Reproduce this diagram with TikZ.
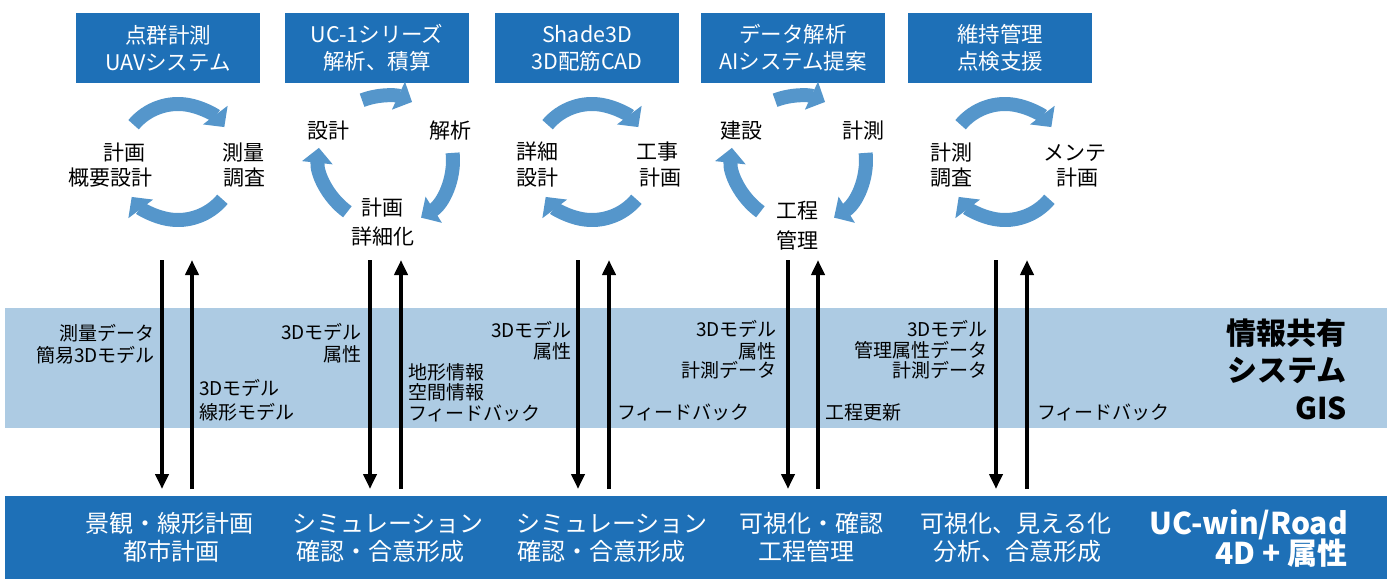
\documentclass[tikz,border=0pt]{standalone}
\usepackage{fontspec}
\setmainfont{Noto Sans CJK JP}
\usetikzlibrary{arrows.meta}
\definecolor{boxblue}{RGB}{30,112,183}
\definecolor{cycblue}{RGB}{85,150,203}
\definecolor{bandblue}{RGB}{173,203,227}
\begin{document}
\begin{tikzpicture}[x=1pt,y=-1pt,
  topbox/.style={fill=boxblue,text=white,minimum width=184pt,minimum height=70pt,inner sep=0pt,align=center,font=\fontsize{21.5}{27}\selectfont},
  cyc/.style={cycblue,line width=14pt,-{Triangle[width=30pt,length=15pt]}},
  lbl/.style={anchor=base,inner sep=0pt,font=\fontsize{21}{25}\selectfont},
  mid/.style={inner sep=0pt,font=\fontsize{19}{21}\selectfont},
  midr/.style={mid,anchor=base east},
  midl/.style={mid,anchor=base west},
  bot/.style={anchor=base,inner sep=0pt,text=white,font=\fontsize{24}{28}\selectfont},
  big/.style={anchor=base east,inner sep=0pt,font=\bfseries\fontsize{30}{34}\selectfont},
  bigw/.style={big,text=white},
  vline/.style={line width=4pt,-{Triangle[width=13pt,length=15pt]}},
]
\useasboundingbox (0,0) rectangle (1392,579);

% bands
\node[fill=bandblue,minimum width=1382pt,minimum height=120pt,inner sep=0pt] (band) at (696,368) {};
\node[fill=boxblue,minimum width=1382pt,minimum height=83pt,inner sep=0pt] (road) at (696,537.5) {};

% top boxes
\node[topbox] (b1) at (168,48) {点群計測\\UAVシステム};
\node[topbox] (b2) at (377,48) {UC-1シリーズ\\解析、積算};
\node[topbox] (b3) at (587,48) {Shade3D\\3D配筋CAD};
\node[topbox] (b4) at (793,48) {データ解析\\AIシステム提案};
\node[topbox] (b5) at (1000,48) {維持管理\\点検支援};

% cycle 1
\draw[cyc] (178,162) ++(-140:58) arc[start angle=-140,end angle=-37,radius=58];
\draw[cyc] (178,162) ++(40:58) arc[start angle=40,end angle=143,radius=58];
\node[lbl] (c1a) at (124,160) {計画};
\node[lbl] (c1b) at (110,185) {概要設計};
\node[lbl] (c1c) at (243,160) {測量};
\node[lbl] (c1d) at (244,185) {調査};

% cycle 2
\draw[cyc] (385,160) ++(-111:64) arc[start angle=-111,end angle=-65,radius=64];
\draw[cyc] (385,160) ++(-6:68) arc[start angle=-6,end angle=58,radius=68];
\draw[cyc] (385,160) ++(126:64) arc[start angle=126,end angle=186,radius=70];
\node[lbl] (c2a) at (328,138) {設計};
\node[lbl] (c2b) at (450,138) {解析};
\node[lbl] (c2c) at (382,215) {計画};
\node[lbl] (c2d) at (383,244) {詳細化};

% cycle 3
\draw[cyc] (592,162) ++(-140:58) arc[start angle=-140,end angle=-37,radius=58];
\draw[cyc] (592,162) ++(40:58) arc[start angle=40,end angle=143,radius=58];
\node[lbl] (c3a) at (537,159) {詳細};
\node[lbl] (c3b) at (537,185) {設計};
\node[lbl] (c3c) at (657,159) {工事};
\node[lbl] (c3d) at (660,185) {計画};

% cycle 4
\draw[cyc] (798,160) ++(-111:64) arc[start angle=-111,end angle=-65,radius=64];
\draw[cyc] (798,160) ++(-6:68) arc[start angle=-6,end angle=58,radius=68];
\draw[cyc] (798,160) ++(126:64) arc[start angle=126,end angle=186,radius=70];
\node[lbl] (c4a) at (741,138) {建設};
\node[lbl] (c4b) at (863,138) {計測};
\node[lbl] (c4c) at (797,218) {工程};
\node[lbl] (c4d) at (797,248) {管理};

% cycle 5
\draw[cyc] (1005,162) ++(-140:58) arc[start angle=-140,end angle=-37,radius=58];
\draw[cyc] (1005,162) ++(40:58) arc[start angle=40,end angle=143,radius=58];
\node[lbl] (c5a) at (951,160) {計測};
\node[lbl] (c5b) at (951,185) {調査};
\node[lbl] (c5c) at (1075,160) {メンテ};
\node[lbl] (c5d) at (1077,185) {計画};

% vertical arrows
\foreach \i/\xd/\xu in {1/162/192,2/370/401,3/578/609,4/788/818,5/996/1027}{
  \coordinate (d\i t) at (\xd,260);
  \coordinate (d\i b) at (\xd,489);
  \coordinate (u\i t) at (\xu,260);
  \coordinate (u\i b) at (\xu,489);
  \draw[vline] (d\i t) -- (d\i b);
  \draw[vline] (u\i b) -- (u\i t);
}

% middle band texts
\node[midr] (m1a) at (155,340) {測量データ};
\node[midr] (m1b) at (155,362) {簡易3Dモデル};
\node[midl] (m1c) at (199,395) {3Dモデル};
\node[midl] (m1d) at (199,419) {線形モデル};
\node[midr] (m2a) at (362,339) {3Dモデル};
\node[midr] (m2b) at (362,361) {属性};
\node[midl] (m2c) at (408,379) {地形情報};
\node[midl] (m2d) at (408,399) {空間情報};
\node[midl] (m2e) at (408,420) {フィードバック};
\node[midr] (m3a) at (572,337) {3Dモデル};
\node[midr] (m3b) at (572,358) {属性};
\node[midl] (m3c) at (617,419) {フィードバック};
\node[midr] (m4a) at (777,336) {3Dモデル};
\node[midr] (m4b) at (777,358) {属性};
\node[midr] (m4c) at (777,377) {計測データ};
\node[midl] (m4d) at (825,419) {工程更新};
\node[midr] (m5a) at (988,336) {3Dモデル};
\node[midr] (m5b) at (988,357) {管理属性データ};
\node[midr] (m5c) at (988,377) {計測データ};
\node[midl] (m5d) at (1037,419) {フィードバック};
\node[big] (g1) at (1347,344) {情報共有};
\node[big] (g2) at (1347,381) {システム};
\node[big] (g3) at (1347,419) {GIS};

% bottom band texts
\node[bot] (r1a) at (169,532) {景観・線形計画};
\node[bot] (r1b) at (171,560) {都市計画};
\node[bot] (r2a) at (388,532) {シミュレーション};
\node[bot] (r2b) at (380,560) {確認・合意形成};
\node[bot] (r3a) at (612,532) {シミュレーション};
\node[bot] (r3b) at (601,560) {確認・合意形成};
\node[bot] (r4a) at (811,532) {可視化・確認};
\node[bot] (r4b) at (806,560) {工程管理};
\node[bot] (r5a) at (1016,532) {可視化、見える化};
\node[bot] (r5b) at (1017,560) {分析、合意形成};
\node[bigw] (w1) at (1348,534) {UC-win/Road};
\node[bigw] (w2) at (1348,564) {4D + 属性};
\end{tikzpicture}
\end{document}
